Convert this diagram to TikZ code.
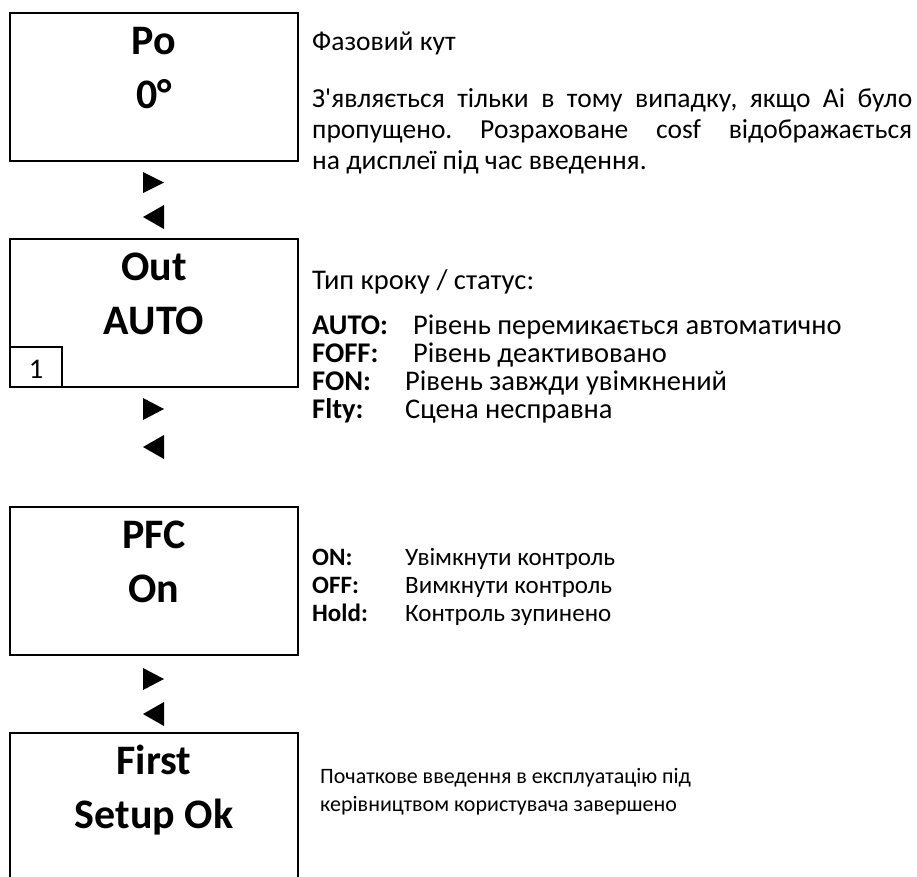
\documentclass[tikz,border=0pt]{standalone}
\usepackage{fontspec}
\setmainfont{Carlito}
\usetikzlibrary{calc}
\frenchspacing

\begin{document}
\begin{tikzpicture}[x=1pt, y=-1pt,
  screen/.style={draw, line width=2.2pt, minimum width=288pt, minimum height=148pt,
                 inner sep=0pt, outer sep=0pt, anchor=north west},
  big/.style={font=\fontsize{42}{44}\selectfont\bfseries, anchor=base, inner sep=0pt},
  para/.style={font=\fontsize{27.5}{30}\selectfont, anchor=base west, inner sep=0pt},
  desc/.style={font=\fontsize{28.5}{30}\selectfont, anchor=base west, inner sep=0pt},
  lbl/.style={font=\fontsize{28.5}{30}\selectfont\bfseries, anchor=base west, inner sep=0pt},
  small/.style={font=\fontsize{25}{27}\selectfont, anchor=base west, inner sep=0pt},
  smalllbl/.style={font=\fontsize{25}{27}\selectfont\bfseries, anchor=base west, inner sep=0pt},
  note/.style={font=\fontsize{22}{26}\selectfont, anchor=base west, inner sep=0pt},
  tri/.style={fill=black}]

\useasboundingbox (0,0) rectangle (917,876);

% ---- display screens ----
\node[screen] (s1) at (10,13) {};
\node[screen] (s2) at (10,239) {};
\node[screen] (s3) at (10,507) {};
\node[screen] (s4) at (10,733) {};

\node[big] (s1a) at ($(s1.north)+(0,41)$) {Po};
\node[big] (s1b) at ($(s1.north)+(0,95)$) {0°};
\node[big] (s2a) at ($(s2.north)+(0,41)$) {Out};
\node[big] (s2b) at ($(s2.north)+(0,95)$) {AUTO};
\node[big] (s3a) at ($(s3.north)+(0,41)$) {PFC};
\node[big] (s3b) at ($(s3.north)+(0,95)$) {On};
\node[big] (s4a) at ($(s4.north)+(0,41)$) {First};
\node[big] (s4b) at ($(s4.north)+(0,95)$) {Setup Ok};

% step number field in the lower left corner of the second screen
\node[draw, line width=2.2pt, inner sep=0pt, outer sep=0pt, anchor=south west,
      minimum width=52pt, minimum height=40pt] (num) at (s2.south west) {};
\node[font=\fontsize{28.5}{30}\selectfont, anchor=base, inner sep=0pt] (numtxt)
      at ($(num.south)+(0,-9)$) {1};

% ---- navigation arrows between the screens ----
\fill[tri] (143,172) -- (164,182.5) -- (143,193) -- cycle;
\fill[tri] (164,205) -- (143,217) -- (164,229) -- cycle;
\fill[tri] (143,398) -- (164,409) -- (143,420) -- cycle;
\fill[tri] (164,435) -- (143,447) -- (164,459) -- cycle;
\fill[tri] (143,668) -- (164,679) -- (143,690) -- cycle;
\fill[tri] (164,702) -- (143,714) -- (164,726) -- cycle;

% ---- explanations ----
\node[para] (d1) at (312,50) {Фазовий кут};
\node[para] (d2) at (312,107) {\makebox[600pt][s]{З\textquotesingle являється тільки в тому випадку, якщо Ai було}};
\node[para] (d3) at (312,138) {\makebox[600pt][s]{пропущено. Розраховане cosf відображається}};
\node[para] (d4) at (312,169) {на дисплеї під час введення.};

\node[desc] (e0) at (312,289) {Тип кроку / статус:};
\node[lbl]  (e1) at (312,334) {AUTO:};
\node[desc] (f1) at (413,334) {Рівень перемикається автоматично};
\node[lbl]  (e2) at (312,362) {FOFF:};
\node[desc] (f2) at (413,362) {Рівень деактивовано};
\node[lbl]  (e3) at (312,390) {FON:};
\node[desc] (f3) at (405,390) {Рівень завжди увімкнений};
\node[lbl]  (e4) at (312,418) {Flty:};
\node[desc] (f4) at (405,418) {Сцена несправна};

\node[smalllbl] (g1) at (312,565) {ON:};
\node[small]    (h1) at (405,565) {Увімкнути контроль};
\node[smalllbl] (g2) at (312,593) {OFF:};
\node[small]    (h2) at (405,593) {Вимкнути контроль};
\node[smalllbl] (g3) at (312,621) {Hold:};
\node[small]    (h3) at (405,621) {Контроль зупинено};

\node[note] (k1) at (320,783) {Початкове введення в експлуатацію під};
\node[note] (k2) at (320,811) {керівництвом користувача завершено};

\end{tikzpicture}
\end{document}
